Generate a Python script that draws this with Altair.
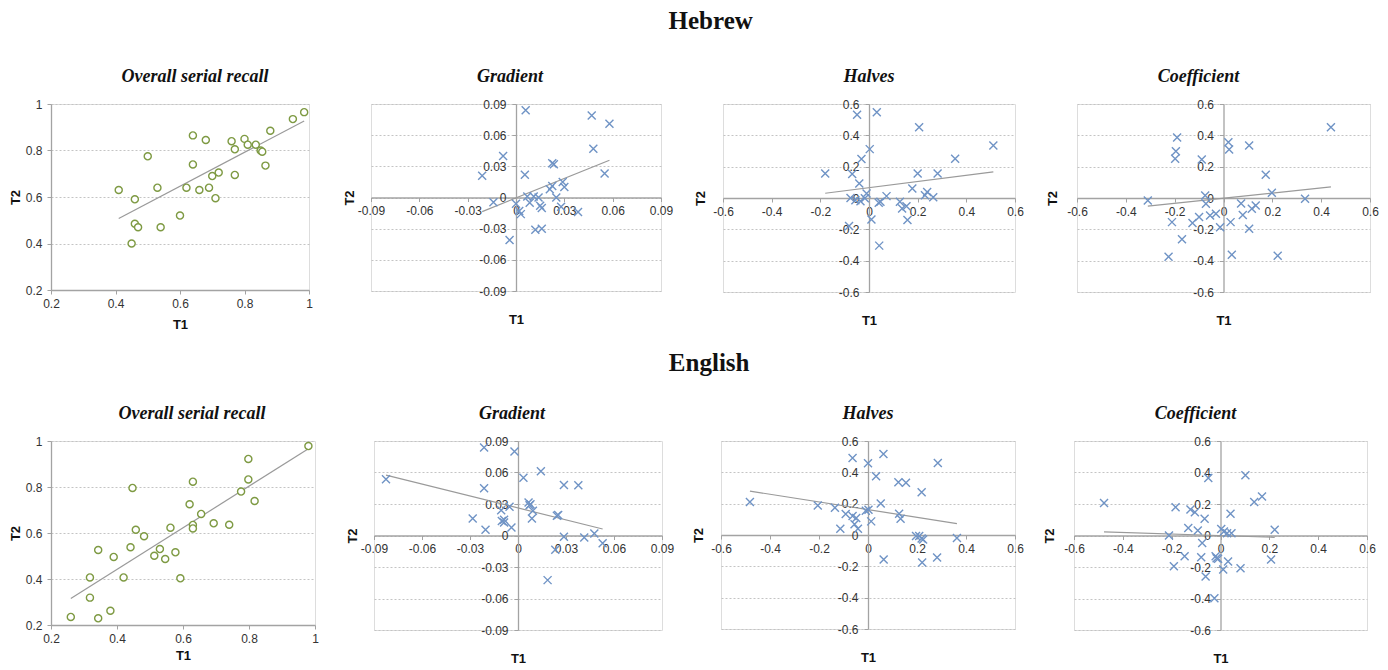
import altair as alt
import pandas as pd

# ---------------- data ----------------
OV_TICKS = [0.2, 0.4, 0.6, 0.8, 1.0]
GRAD_TICKS = [-0.09, -0.06, -0.03, 0, 0.03, 0.06, 0.09]
HALF_TICKS = [-0.6, -0.4, -0.2, 0, 0.2, 0.4, 0.6]

heb_overall_t1 = [0.41, 0.46, 0.46, 0.47, 0.45, 0.50, 0.53, 0.54, 0.60, 0.62, 0.64, 0.64, 0.66, 0.68, 0.69,
                  0.70, 0.71, 0.72, 0.76, 0.77, 0.77, 0.80, 0.81, 0.835, 0.85, 0.855, 0.865, 0.88, 0.95, 0.985]
heb_overall_t2 = [0.63, 0.59, 0.485, 0.47, 0.40, 0.775, 0.64, 0.47, 0.52, 0.64, 0.865, 0.74, 0.63, 0.845, 0.64,
                  0.69, 0.595, 0.705, 0.84, 0.805, 0.695, 0.85, 0.825, 0.825, 0.80, 0.795, 0.735, 0.885, 0.935, 0.965]

heb_grad_t1 = [-0.021, -0.014, -0.008, -0.004, 0.0, 0.002, 0.003, 0.006, 0.0055, 0.007, 0.0085, 0.011, 0.012,
               0.014, 0.015, 0.016, 0.016, 0.021, 0.0225, 0.0225, 0.0235, 0.025, 0.028, 0.029, 0.030, 0.0385,
               0.047, 0.048, 0.055, 0.058]
heb_grad_t2 = [0.021, -0.0045, 0.040, -0.041, -0.006, -0.013, -0.016, 0.084, 0.022, 0.001, -0.005, 0.001, -0.031,
               0.0, -0.008, -0.010, -0.030, 0.008, 0.011, 0.033, 0.032, 0.0, -0.009, 0.015, 0.010, -0.014,
               0.079, 0.047, 0.023, 0.071]

heb_half_t1 = [-0.18, -0.082, -0.076, -0.069, -0.049, -0.056, -0.040, -0.035, -0.031, -0.017, -0.010, 0.003,
               0.010, 0.032, 0.040, 0.047, 0.042, 0.072, 0.127, 0.136, 0.154, 0.158, 0.178, 0.200, 0.206, 0.230,
               0.239, 0.264, 0.282, 0.354, 0.511]
heb_half_t2 = [0.156, -0.179, 0.0, 0.153, 0.532, -0.014, 0.092, -0.02, 0.249, -0.001, 0.029, 0.312, -0.137,
               0.547, -0.031, -0.024, -0.304, 0.012, -0.024, -0.067, -0.052, -0.141, 0.060, 0.156, 0.452, 0.018,
               0.039, 0.005, 0.156, 0.251, 0.335]

heb_coef_t1 = [-0.31, -0.225, -0.211, -0.198, -0.195, -0.19, -0.17, -0.127, -0.10, -0.089, -0.075, -0.072,
               -0.055, -0.031, -0.014, 0.020, 0.023, 0.029, 0.034, 0.072, 0.079, 0.105, 0.105, 0.116, 0.132,
               0.173, 0.198, 0.222, 0.334, 0.44]
heb_coef_t2 = [-0.016, -0.375, -0.154, 0.250, 0.299, 0.386, -0.264, -0.160, -0.122, 0.245, 0.016, -0.037,
               -0.111, -0.101, -0.186, 0.356, 0.309, -0.154, -0.362, -0.035, -0.109, 0.335, -0.196, -0.069,
               -0.048, 0.148, 0.033, -0.368, -0.005, 0.451]

eng_overall_t1 = [0.26, 0.318, 0.318, 0.343, 0.343, 0.38, 0.39, 0.42, 0.441, 0.447, 0.457, 0.482, 0.513, 0.530,
                  0.546, 0.562, 0.577, 0.592, 0.620, 0.630, 0.630, 0.630, 0.655, 0.693, 0.740, 0.776, 0.798,
                  0.798, 0.817, 0.980]
eng_overall_t2 = [0.235, 0.319, 0.407, 0.229, 0.526, 0.262, 0.496, 0.407, 0.538, 0.796, 0.614, 0.586, 0.501,
                  0.530, 0.487, 0.623, 0.516, 0.403, 0.725, 0.823, 0.635, 0.620, 0.683, 0.642, 0.636, 0.780,
                  0.922, 0.833, 0.739, 0.978]

eng_grad_t1 = [-0.0825, -0.0283, -0.0212, -0.0212, -0.0203, -0.0105, -0.0101, -0.0087, -0.0087, -0.0053,
               -0.0041, -0.0022, 0.0034, 0.0066, 0.0072, 0.0078, 0.0093, 0.0087, 0.0143, 0.0185, 0.0233,
               0.0243, 0.0251, 0.0287, 0.0287, 0.0377, 0.0414, 0.0477, 0.0529]
eng_grad_t2 = [0.0536, 0.0162, 0.0837, 0.045, 0.0054, 0.024, 0.0139, 0.0149, 0.0124, 0.0273, 0.0076, 0.0799,
               0.0551, 0.0314, 0.0288, 0.0298, 0.0235, 0.0162, 0.0612, -0.0425, -0.0136, 0.0187, 0.0196,
               0.0482, -0.0013, 0.0479, -0.0019, 0.0019, -0.0073]

eng_half_t1 = [-0.482, -0.205, -0.135, -0.113, -0.091, -0.063, -0.063, -0.055, -0.048, -0.041, -0.009, 0.0,
               0.002, 0.013, 0.033, 0.052, 0.063, 0.064, 0.124, 0.127, 0.133, 0.155, 0.196, 0.209, 0.219,
               0.219, 0.221, 0.225, 0.282, 0.285, 0.363]
eng_half_t2 = [0.21, 0.189, 0.174, 0.040, 0.134, 0.492, 0.121, 0.068, 0.108, 0.040, 0.155, 0.458, 0.161,
               0.087, 0.375, 0.201, 0.517, -0.157, 0.337, 0.136, 0.104, 0.333, -0.006, -0.006, 0.273, -0.023,
               -0.176, -0.028, -0.144, 0.460, -0.019]

eng_coef_t1 = [-0.477, -0.211, -0.191, -0.184, -0.147, -0.132, -0.123, -0.105, -0.093, -0.079, -0.075, -0.065,
               -0.061, -0.050, -0.025, -0.020, -0.016, -0.010, 0.003, 0.011, 0.014, 0.027, 0.031, 0.041, 0.045,
               0.082, 0.102, 0.138, 0.170, 0.207, 0.222]
eng_coef_t2 = [0.206, 0.0, -0.195, 0.180, -0.131, 0.047, 0.165, 0.148, 0.032, -0.138, -0.047, 0.106, -0.261,
               0.365, -0.399, -0.131, -0.144, -0.148, 0.042, -0.216, 0.025, 0.015, -0.165, 0.138, 0.015,
               -0.208, 0.382, 0.212, 0.248, -0.153, 0.036]

# ---------------- styling ----------------
GREEN = "#7e9a43"
BLUE = "#6f93c5"
AXIS_GRAY = "#a3a3a3"
GRID_GRAY = "#c4c4c4"
LABEL = "#333333"
SANS = "Liberation Sans"
SERIF = "Liberation Serif"
LABEL_EXPR = "replace(format(datum.value, '~g'), '\u2212', '-')"
XSHAPE = "M-1,-1L1,1M-1,1L1,-1"


def axis_common():
    return dict(labelExpr=LABEL_EXPR, labelFont=SANS, labelFontSize=12, labelColor=LABEL,
                domainColor=AXIS_GRAY, domainWidth=1.3, tickColor=AXIS_GRAY, tickSize=4,
                labelFlush=False, labelOverlap=False, titleFont=SANS, titleFontSize=13,
                titleFontWeight="bold", titleColor="#111111", titleAlign="center",
                titleBaseline="middle", gridColor=GRID_GRAY, gridDash=[2, 2], gridWidth=1)


def panel_title(text, dx):
    return alt.TitleParams(text, font=SERIF, fontSize=18, fontWeight="bold", fontStyle="italic",
                           color="#111111", anchor="middle", frame="group", dx=dx,
                           baseline="alphabetic", offset=-2)


def overall_panel(t1, t2, title, w, h, dx, t1y):
    df = pd.DataFrame({"T1": t1, "T2": t2})
    xs = alt.Scale(domain=[0.2, 1.0], nice=False, zero=False)
    ys = alt.Scale(domain=[0.2, 1.0], nice=False, zero=False)
    xax = alt.Axis(values=OV_TICKS, grid=False, title="T1", titleX=w / 2, titleY=t1y, labelPadding=4,
                   **axis_common())
    yax = alt.Axis(values=OV_TICKS, grid=True, title="T2", titleX=-36, titleY=h / 2, titleAngle=270,
                   labelPadding=5, **axis_common())
    base = alt.Chart(df)
    line = base.transform_regression("T1", "T2").mark_line(color="#9a9a9a", strokeWidth=1.2).encode(
        x=alt.X("T1:Q", scale=xs, axis=xax), y=alt.Y("T2:Q", scale=ys, axis=yax))
    pts = base.mark_point(shape="circle", filled=False, fill="white", fillOpacity=1, stroke=GREEN,
                          strokeWidth=1.4, size=50, opacity=1).encode(
        x=alt.X("T1:Q", scale=xs, axis=xax), y=alt.Y("T2:Q", scale=ys, axis=yax))
    return alt.layer(line, pts).properties(width=w, height=h, title=panel_title(title, dx))


def centered_panel(t1, t2, title, lim, ticks, w, h, dx, t2x):
    df = pd.DataFrame({"T1": t1, "T2": t2})
    xs = alt.Scale(domain=[-lim, lim], nice=False, zero=False)
    ys = alt.Scale(domain=[-lim, lim], nice=False, zero=False)
    xax = alt.Axis(values=ticks, grid=False, orient="bottom", offset=-h / 2, title="T1",
                   titleX=w / 2, titleY=h / 2 + 28, labelPadding=4, **axis_common())
    yax = alt.Axis(values=ticks, grid=True, orient="left", offset=-w / 2, title="T2",
                   titleX=-w / 2 + t2x, titleY=h / 2, titleAngle=270, labelPadding=6, **axis_common())
    base = alt.Chart(df)
    line = base.transform_regression("T1", "T2").mark_line(color="#9a9a9a", strokeWidth=1.2).encode(
        x=alt.X("T1:Q", scale=xs, axis=xax), y=alt.Y("T2:Q", scale=ys, axis=yax))
    pts = base.mark_point(shape=XSHAPE, filled=False, stroke=BLUE, strokeWidth=1.4, size=64,
                          opacity=1).encode(
        x=alt.X("T1:Q", scale=xs, axis=xax), y=alt.Y("T2:Q", scale=ys, axis=yax))
    return alt.layer(line, pts).properties(width=w, height=h, title=panel_title(title, dx))


def row_title(text, offset):
    return alt.TitleParams(text, font=SERIF, fontSize=25, fontWeight="bold", color="#111111",
                           anchor="middle", frame="bounds", dx=17, baseline="alphabetic", offset=offset)


row1 = alt.hconcat(
    overall_panel(heb_overall_t1, heb_overall_t2, "Overall serial recall", 258, 186, 15, 34),
    centered_panel(heb_grad_t1, heb_grad_t2, "Gradient", 0.09, GRAD_TICKS, 290, 187, -6, -22),
    centered_panel(heb_half_t1, heb_half_t2, "Halves", 0.6, HALF_TICKS, 292, 188, 0, -23),
    centered_panel(heb_coef_t1, heb_coef_t2, "Coefficient", 0.6, HALF_TICKS, 293, 188, -25, -25),
    spacing=62, bounds="flush",
).properties(title=row_title("Hebrew", 14))

row2 = alt.hconcat(
    overall_panel(eng_overall_t1, eng_overall_t2, "Overall serial recall", 264, 184, 9, 30),
    centered_panel(eng_grad_t1, eng_grad_t2, "Gradient", 0.09, GRAD_TICKS, 288, 189, -6, -22),
    centered_panel(eng_half_t1, eng_half_t2, "Halves", 0.6, HALF_TICKS, 294, 188, 0, -23),
    centered_panel(eng_coef_t1, eng_coef_t2, "Coefficient", 0.6, HALF_TICKS, 293, 189, -25, -25),
    spacing=59, bounds="flush",
).properties(title=row_title("English", 9))

chart = alt.vconcat(row1, row2, spacing=18).properties(
    padding={"left": 0, "top": 0, "right": 0, "bottom": 0}
).configure_view(stroke=None).configure(background="white")

chart.save("out.html", embed_options={"renderer": "svg", "actions": False})
